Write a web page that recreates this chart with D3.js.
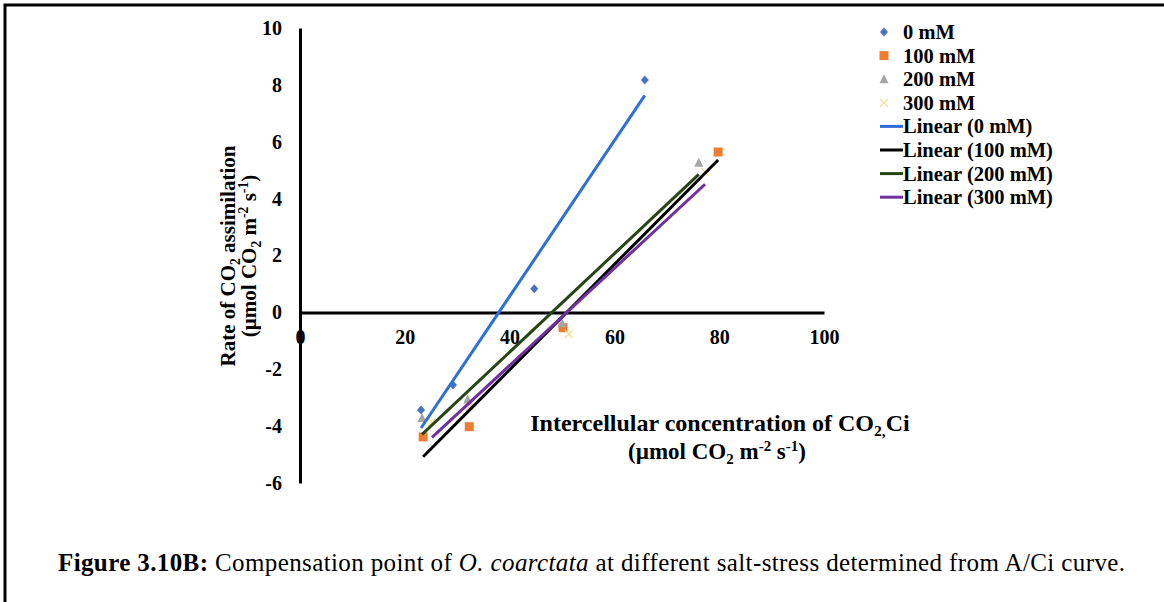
<!DOCTYPE html>
<html>
<head>
<meta charset="utf-8">
<script src="https://cdn.jsdelivr.net/npm/d3@7"></script>
<style>
  body { margin: 0; background: #fff; }
  text { font-family: "Liberation Serif", "Times New Roman", serif; }
</style>
</head>
<body>
<div id="chart"></div>
<script>
// series names & colours
const seriesNames = ["0 mM", "100 mM", "200 mM", "300 mM"];
// intercellular CO2 (x) and assimilation rate (y)
const ci0 = [23.1, 29.2, 44.7, 65.8];
const rate0 = [-3.43, -2.55, 0.83, 8.17];
const ci100 = [23.5, 32.3, 50.2, 79.8];
const rate100 = [-4.38, -4.02, -0.54, 5.64];
const ci200 = [23.3, 32.0, 50.0, 76.1];
const rate200 = [-3.71, -3.06, -0.38, 5.26];
const ci300 = [25.2, 32.4, 51.3, 77.3];
const rate300 = [-3.85, -3.32, -0.76, 4.94];

const xTicks = [0, 20, 40, 60, 80, 100];
const yTicks = [-6, -4, -2, 0, 2, 4, 6, 8, 10];

const markerColors = ["#4472c4", "#ed7d31", "#a5a5a5", "#f7dc8a"];
const lineColors = ["#2f6fd8", "#000000", "#264713", "#7030a0"];
const markerTypes = ["diamond", "square", "triangle", "cross"];

const width = 1164, height = 602;

const svg = d3.select("#chart").append("svg")
	.attr("width", width)
	.attr("height", height);

// frame
svg.append("path")
	.attr("d", "M5,602 L5,5 L1164,5")
	.attr("fill", "none")
	.attr("stroke", "#000")
	.attr("stroke-width", 3);

// scales
const x = d3.scaleLinear().domain([0, 100]).range([300, 824]);
const y = d3.scaleLinear().domain([-6, 10]).range([483, 28]);

// x axis through zero
const xAxis = svg.append("g")
	.attr("transform", "translate(0," + y(0) + ")")
	.call(d3.axisBottom(x).tickValues(xTicks).tickSize(0).tickPadding(17).tickFormat(d => d));
xAxis.select(".domain").attr("stroke", "#000").attr("stroke-width", 3);
xAxis.selectAll("text")
	.attr("font-size", 20).attr("font-weight", "bold")
	.attr("font-family", "Liberation Serif").attr("fill", "#000");

// y axis
const yAxis = svg.append("g")
	.attr("transform", "translate(" + x(0) + ",0)")
	.call(d3.axisLeft(y).tickValues(yTicks).tickSize(0).tickPadding(18).tickFormat(d => d));
yAxis.select(".domain").attr("stroke", "#000").attr("stroke-width", 3);
yAxis.selectAll("text")
	.attr("font-size", 20).attr("font-weight", "bold")
	.attr("font-family", "Liberation Serif").attr("fill", "#000");

// build series
const seriesData = [
	d3.zip(ci0, rate0),
	d3.zip(ci100, rate100),
	d3.zip(ci200, rate200),
	d3.zip(ci300, rate300)
];

function linearFit(pts) {
	const mx = d3.mean(pts, d => d[0]), my = d3.mean(pts, d => d[1]);
	const sxy = d3.sum(pts, d => (d[0] - mx) * (d[1] - my));
	const sxx = d3.sum(pts, d => (d[0] - mx) * (d[0] - mx));
	const slope = sxy / sxx;
	const x0 = d3.min(pts, d => d[0]), x1 = d3.max(pts, d => d[0]);
	return [[x0, my + slope * (x0 - mx)], [x1, my + slope * (x1 - mx)]];
}

function drawMarker(g, type, color) {
	if (type === "diamond") {
		g.append("path").attr("d", "M0,-4.5 L4,0 L0,4.5 L-4,0 Z").attr("fill", color);
	} else if (type === "square") {
		g.append("rect").attr("x", -4.5).attr("y", -4.5).attr("width", 9).attr("height", 9).attr("fill", color);
	} else if (type === "triangle") {
		g.append("path").attr("d", "M0,-5 L4.5,4 L-4.5,4 Z").attr("fill", color);
	} else {
		g.append("path").attr("d", "M-4,-4 L4,4 M4,-4 L-4,4").attr("stroke", color).attr("stroke-width", 1.2);
	}
}

// markers
seriesData.forEach((pts, i) => {
	svg.append("g").selectAll("g")
		.data(pts)
		.enter().append("g")
		.attr("transform", d => "translate(" + x(d[0]) + "," + y(d[1]) + ")")
		.each(function() { drawMarker(d3.select(this), markerTypes[i], markerColors[i]); });
});

// trendlines
const line = d3.line().x(d => x(d[0])).y(d => y(d[1]));
seriesData.forEach((pts, i) => {
	svg.append("path")
		.datum(linearFit(pts))
		.attr("d", line)
		.attr("fill", "none")
		.attr("stroke", lineColors[i])
		.attr("stroke-width", 3);
});

// legend
const legend = svg.append("g");
const rowY = d3.range(8).map(i => 32 + i * 23.6);
seriesNames.forEach((name, i) => {
	const g = legend.append("g").attr("transform", "translate(884," + rowY[i] + ")");
	drawMarker(g, markerTypes[i], markerColors[i]);
	legend.append("text").attr("x", 903).attr("y", rowY[i] + 7)
		.attr("font-size", 20.5).attr("font-weight", "bold").text(name);
});
seriesNames.forEach((name, i) => {
	const ry = rowY[i + 4];
	legend.append("line").attr("x1", 880).attr("x2", 903).attr("y1", ry).attr("y2", ry)
		.attr("stroke", lineColors[i]).attr("stroke-width", 3);
	legend.append("text").attr("x", 903).attr("y", ry + 7)
		.attr("font-size", 20.5).attr("font-weight", "bold").text("Linear (" + name + ")");
});

// axis titles
function unitLine(t) {
	t.append("tspan").text("(µmol CO");
	t.append("tspan").attr("font-size", "0.65em").attr("dy", 5).text("2");
	t.append("tspan").attr("dy", -5).text(" m");
	t.append("tspan").attr("font-size", "0.65em").attr("dy", -8).text("-2");
	t.append("tspan").attr("dy", 8).text("  s");
	t.append("tspan").attr("font-size", "0.65em").attr("dy", -8).text("-1");
	t.append("tspan").attr("dy", 8).text(")");
}

const yTitle = svg.append("g").attr("transform", "translate(235,256) rotate(-90)");
const yt1 = yTitle.append("text").attr("text-anchor", "middle")
	.attr("font-size", 21).attr("font-weight", "bold");
yt1.append("tspan").text("Rate of CO");
yt1.append("tspan").attr("font-size", "0.65em").attr("dy", 5).text("2");
yt1.append("tspan").attr("dy", -5).text(" assimilation");
const yt2 = yTitle.append("text").attr("text-anchor", "middle").attr("y", 21)
	.attr("font-size", 21).attr("font-weight", "bold");
unitLine(yt2);

const xt1 = svg.append("text").attr("x", 720).attr("y", 431).attr("text-anchor", "middle")
	.attr("font-size", 24).attr("font-weight", "bold");
xt1.append("tspan").text("Intercellular concentration of CO");
xt1.append("tspan").attr("font-size", "0.65em").attr("dy", 5).text("2,");
xt1.append("tspan").attr("dy", -5).text("Ci");
const xt2 = svg.append("text").attr("x", 717).attr("y", 459).attr("text-anchor", "middle")
	.attr("font-size", 23).attr("font-weight", "bold");
unitLine(xt2);

// caption
const cap = svg.append("text").attr("x", 58).attr("y", 571)
	.attr("font-size", 25)
	.attr("textLength", 1067).attr("lengthAdjust", "spacing");
cap.append("tspan").attr("font-weight", "bold").text("Figure 3.10B:");
cap.append("tspan").text(" Compensation point of ");
cap.append("tspan").attr("font-style", "italic").text("O. coarctata");
cap.append("tspan").text(" at different salt-stress determined from A/Ci curve.");
</script>
</body>
</html>
